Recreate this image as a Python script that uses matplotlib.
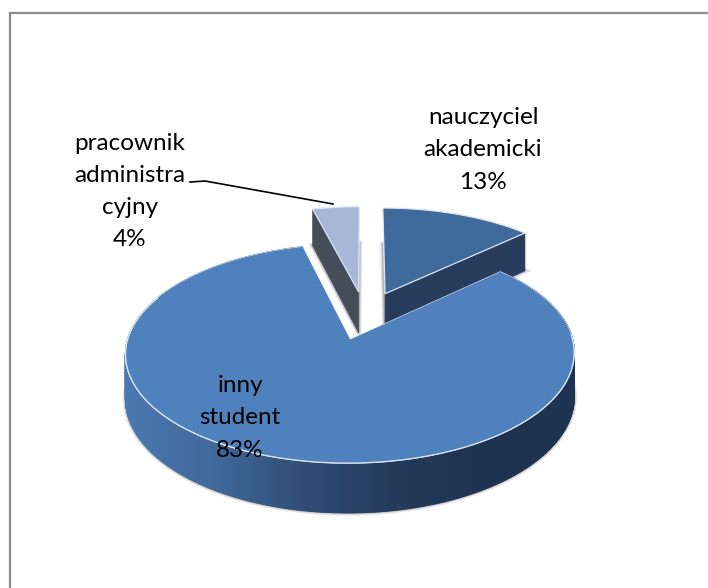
import numpy as np
import matplotlib
matplotlib.use("Agg")
import matplotlib.pyplot as plt
from matplotlib.colors import LinearSegmentedColormap
from matplotlib.patches import Polygon

categories = ["nauczyciel\nakademicki", "inny\nstudent", "pracownik\nadministra\ncyjny"]
values = [13, 83, 4]
top_colors = ["#3E6A9C", "#4F81BD", "#A7B7D8"]
side_colors = ["#283C5E", "#1F3450", "#454C5A"]
label_pos = [(483, 150), (240, 418), (130, 191.5)]

# fake 3D view, in pixels of the 708x588 image
CX, CY = 365, 315.5
RX, RY = 216, 101.5
PERSP = 0.125
EXPLODE = 0.24
DEPTH = 42

rim_cmap = LinearSegmentedColormap.from_list(
    "rim", ["#4A78B0", "#40689A", "#2F4C74", "#233A5A", "#1E3350", "#1F3450"])


def project(x, y, z=0.0):
    s = 1 / (1 + PERSP * y)
    return CX + RX * x * s, CY - RY * y * s + z * s


def wedge_plan(start, stop, n=700):
    mid = np.radians((start + stop) / 2)
    ox, oy = EXPLODE * np.sin(mid), EXPLODE * np.cos(mid)
    t = np.radians(np.linspace(start, stop, n))
    return ox, oy, ox + np.sin(t), oy + np.cos(t)


def face(ox, oy, ax_, ay_, z=0.0):
    x = np.r_[ox, ax_]
    y = np.r_[oy, ay_]
    px, py = project(x, y, z)
    return np.c_[px, py]


fig = plt.figure(figsize=(7.08, 5.88), dpi=100)
ax = fig.add_axes([0, 0, 1, 1])
ax.set_xlim(0, 708)
ax.set_ylim(588, 0)
ax.axis("off")

# only top and left of the chart border show up
ax.plot([9.5, 9.5, 708], [588, 12.5, 12.5], color="#8C8C8C", lw=1.6, solid_joinstyle="miter")

# angles go clockwise from 12 o'clock
stops = np.cumsum(values) / sum(values) * 360
starts = np.r_[0, stops[:-1]]

# back slices first, the big one covers them
for i in [2, 0, 1]:
    ox, oy, ex, ey = wedge_plan(starts[i], stops[i])
    bottom = face(ox, oy, ex, ey, DEPTH)
    for lw, a in [(4.5, 0.12), (3, 0.2), (1.6, 0.35)]:
        ax.add_patch(Polygon(bottom, closed=True, fc="white", ec="#777777", lw=lw, alpha=a, zorder=2 + i * 0.01))

    if i == 1:
        # outer rim with left-to-right gradient, front half only
        for k in range(len(ex) - 1):
            x0, y0 = project(ex[k:k + 2], ey[k:k + 2])
            x1, y1 = project(ex[k:k + 2], ey[k:k + 2], DEPTH)
            t = (x0.mean() - 125) / 450
            ax.add_patch(Polygon(np.c_[np.r_[x0, x1[::-1]], np.r_[y0, y1[::-1]]], closed=True,
                                 fc=rim_cmap(t), ec=rim_cmap(t), lw=1.0, zorder=3))
    else:
        # the radial wall that faces the viewer
        j = -1 if i == 0 else 0
        ax_, ay_ = project(np.array([ox, ex[j]]), np.array([oy, ey[j]]))
        bx_, by_ = project(np.array([ox, ex[j]]), np.array([oy, ey[j]]), DEPTH)
        ax.add_patch(Polygon(np.c_[np.r_[ax_, bx_[::-1]], np.r_[ay_, by_[::-1]]], closed=True,
                             fc=side_colors[i], ec=side_colors[i], lw=0.5, zorder=3))

    top = face(ox, oy, ex, ey)
    ax.add_patch(Polygon(top, closed=True, fc=top_colors[i], ec="#DCE6F2", lw=0.9, zorder=4))
    if i == 1:
        ax.add_patch(Polygon(top, closed=True, fc=top_colors[i], ec="none", zorder=4))
        front = (ey < -0.23 + 0.05) | (np.abs(ex) > 0.98)
        ax.plot(top[1:, 0][front], top[1:, 1][front], color="#DCE6F2", lw=0.9, zorder=5)

# leader line for the small slice
ax.plot([190, 205, 333], [182, 181, 204], color="black", lw=1.2, zorder=6)

for name, v, (lx, ly) in zip(categories, values, label_pos):
    ax.text(lx, ly, f"{name}\n{v}%", ha="center", va="center", multialignment="center",
            family="Lato", fontsize=17.5, color="black", linespacing=1.66, zorder=7)

fig.savefig("out.png", dpi=100)
